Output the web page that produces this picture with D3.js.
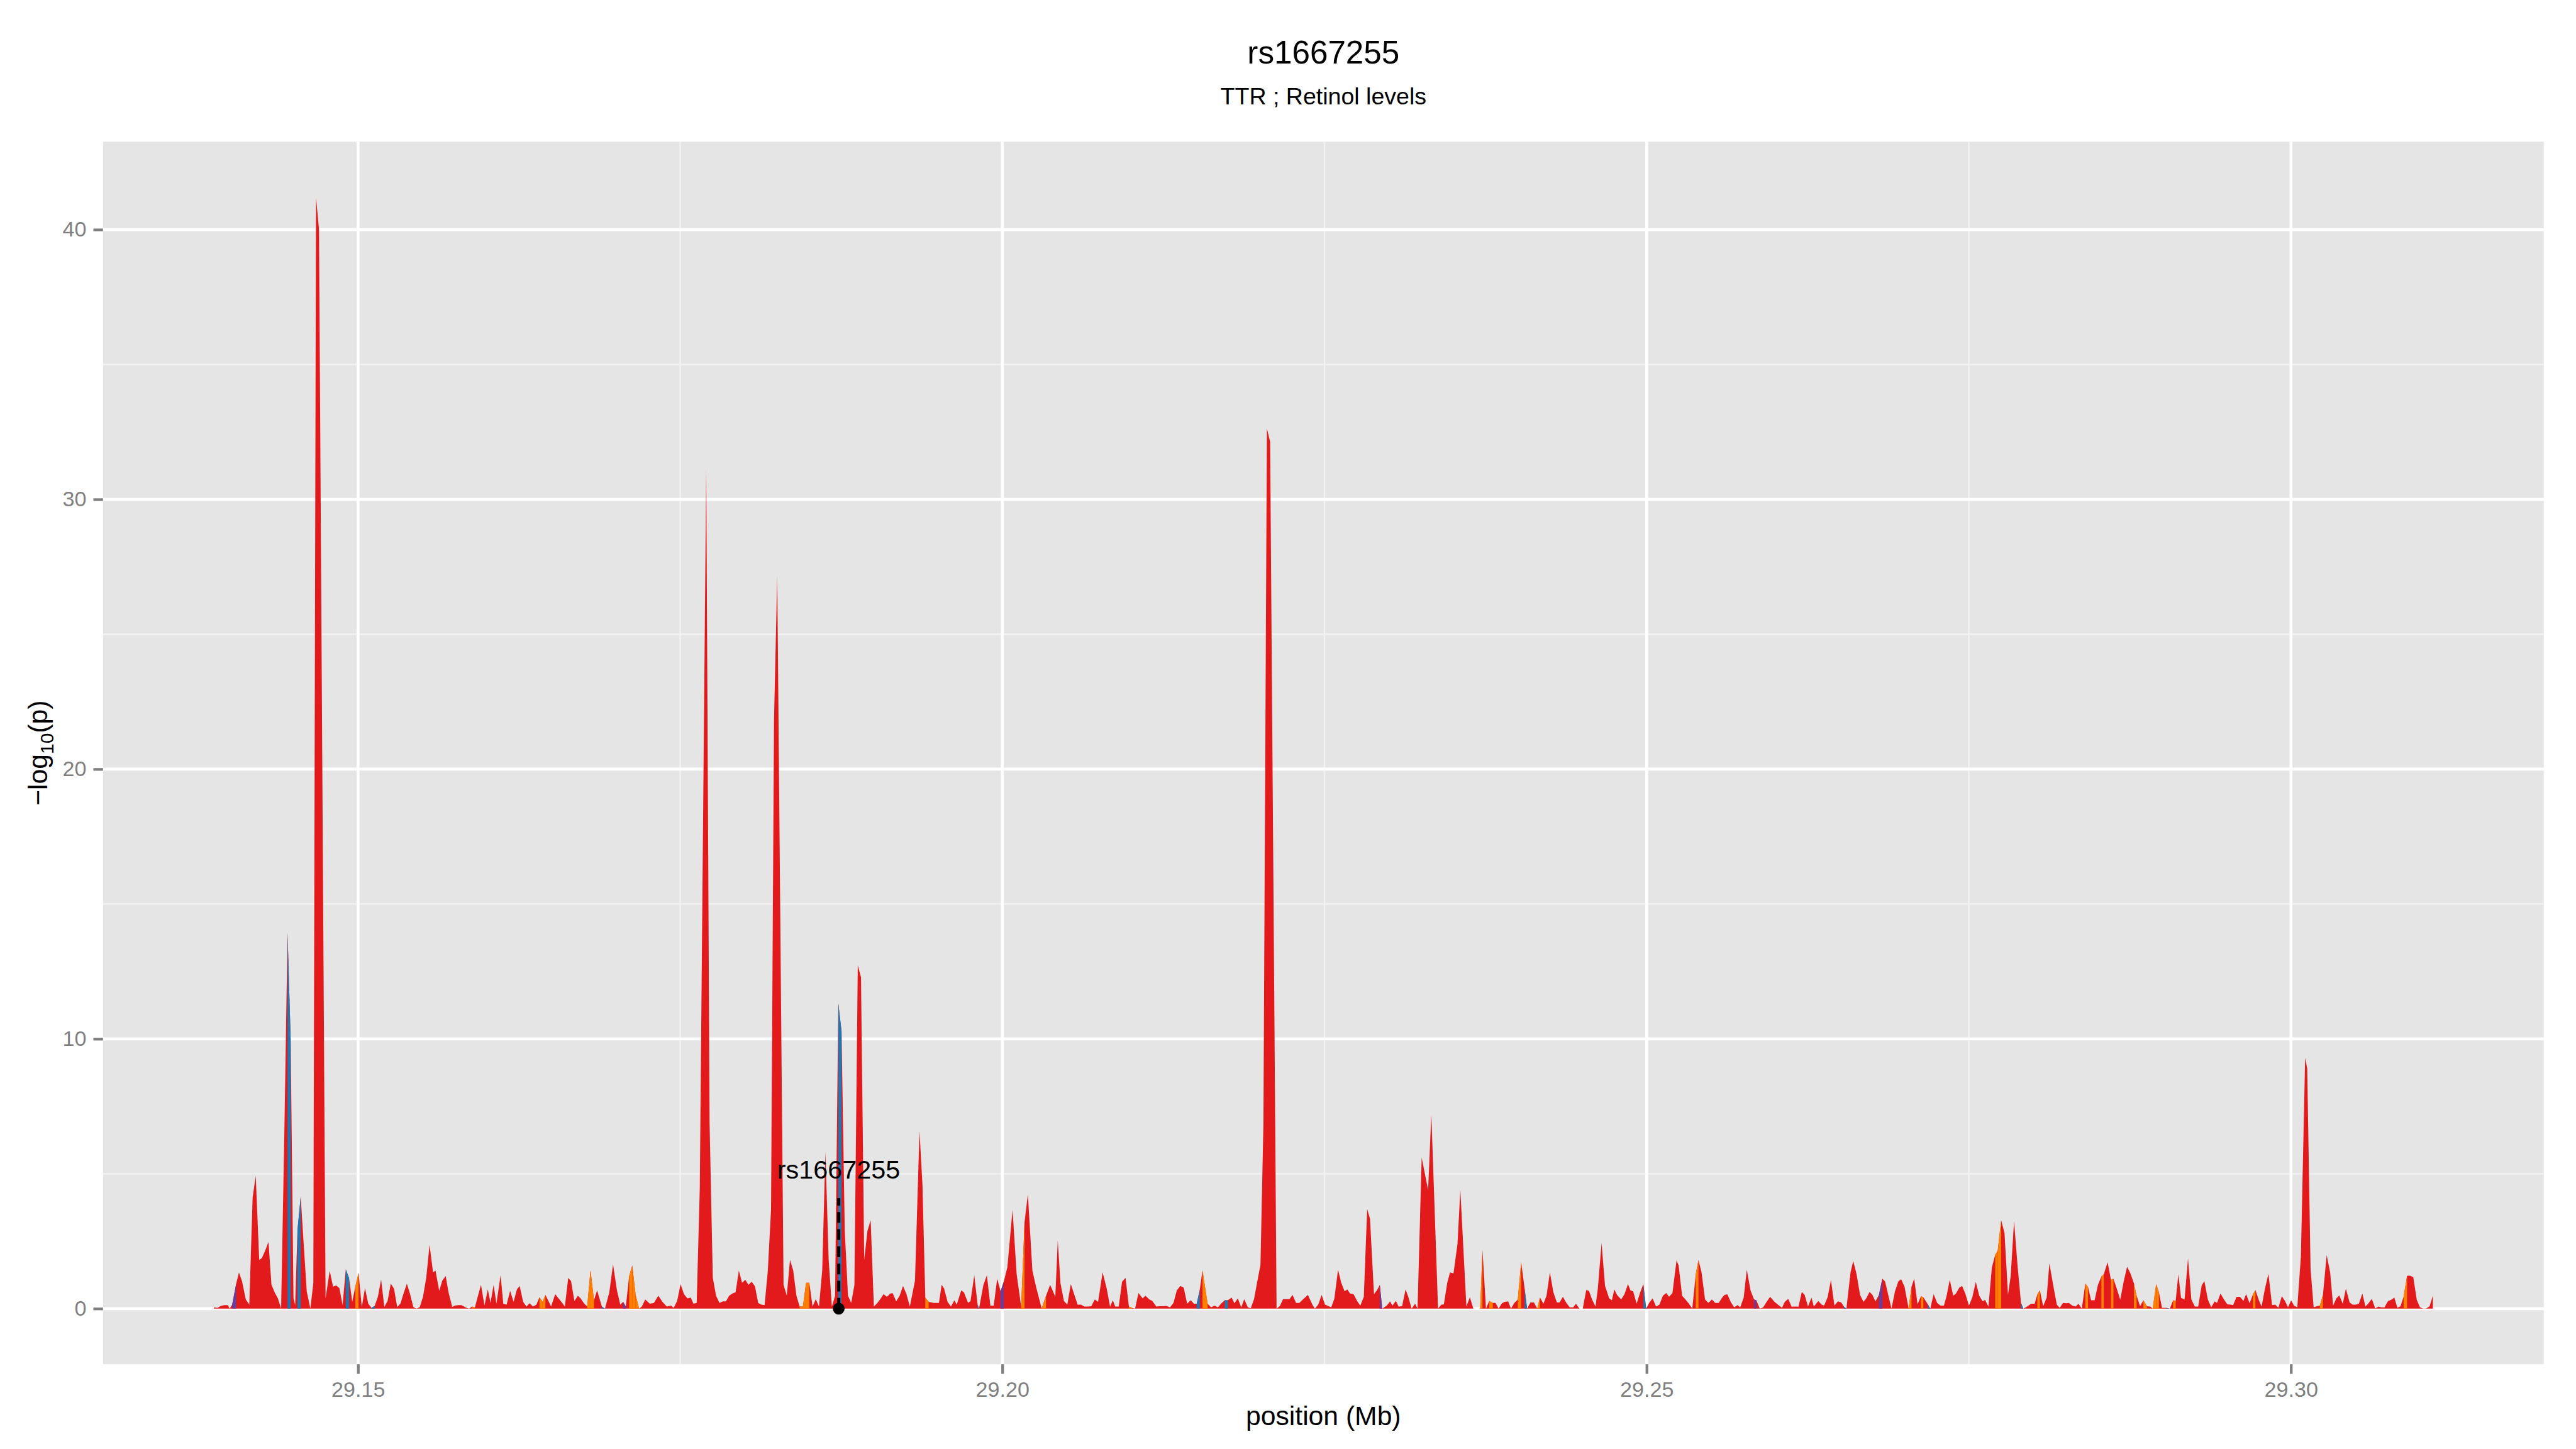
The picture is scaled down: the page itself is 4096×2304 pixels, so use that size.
<!DOCTYPE html>
<html>
<head>
<meta charset="utf-8">
<script src="https://cdn.jsdelivr.net/npm/d3@7"></script>
<style>
  body { margin: 0; background: #ffffff; }
  text { font-family: "Liberation Sans", Arial, Helvetica, sans-serif; }
</style>
</head>
<body>
<svg id="chart"></svg>
<script>
// SNP positions (kb on chr) and -log10(p)
const posKb = [
  29138.82, 29139.09, 29139.35, 29139.62, 29139.89, 29140.04, 29140.23, 29140.55, 29140.76, 29141.00,
  29141.29, 29141.56, 29141.82, 29142.06, 29142.33, 29142.54, 29142.81, 29143.05, 29143.28, 29143.53,
  29143.78, 29144.03, 29144.28, 29144.53, 29144.77, 29144.99, 29145.12, 29145.30, 29145.55, 29145.78,
  29146.02, 29146.30, 29146.53, 29146.74, 29146.97, 29147.48, 29147.80, 29148.06, 29148.31, 29148.55,
  29148.80, 29149.05, 29149.30, 29149.55, 29149.79, 29150.04, 29150.29, 29150.54, 29150.79, 29151.04,
  29151.29, 29151.54, 29151.79, 29152.04, 29152.29, 29152.54, 29152.79, 29153.04, 29153.29, 29153.54,
  29153.79, 29154.04, 29154.29, 29154.54, 29154.79, 29155.04, 29155.29, 29155.55, 29155.82, 29156.01,
  29156.30, 29156.54, 29156.80, 29157.02, 29157.31, 29157.50, 29157.76, 29158.03, 29158.34, 29158.61,
  29158.86, 29159.07, 29159.29, 29159.54, 29159.81, 29160.07, 29160.28, 29160.52, 29160.74, 29161.06,
  29161.27, 29161.53, 29161.80, 29162.07, 29162.33, 29162.54, 29162.81, 29163.07, 29163.31, 29163.58,
  29163.84, 29164.08, 29164.32, 29164.54, 29164.76, 29164.98, 29165.30, 29165.53, 29165.78, 29166.05,
  29166.31, 29166.53, 29166.79, 29167.06, 29167.27, 29167.53, 29167.78, 29168.04, 29168.31, 29168.55,
  29168.92, 29169.16, 29169.50, 29169.79, 29170.09, 29170.35, 29170.57, 29170.78, 29171.04, 29171.28,
  29171.54, 29171.81, 29172.02, 29172.29, 29172.64, 29172.96, 29173.30, 29173.62, 29173.96, 29174.28,
  29174.50, 29174.76, 29175.03, 29175.29, 29175.56, 29175.82, 29176.03, 29176.28, 29176.52, 29177.02,
  29177.28, 29177.53, 29177.78, 29178.05, 29178.30, 29178.55, 29178.80, 29179.05, 29179.30, 29179.55,
  29179.80, 29180.05, 29180.30, 29180.55, 29180.80, 29181.05, 29181.30, 29181.55, 29181.80, 29182.05,
  29182.28, 29182.53, 29183.02, 29183.27, 29183.52, 29183.77, 29184.02, 29184.27, 29184.52, 29184.77,
  29185.02, 29185.27, 29185.52, 29185.77, 29186.02, 29186.27, 29186.52, 29186.77, 29187.02, 29187.27,
  29187.52, 29187.77, 29188.02, 29188.27, 29188.52, 29188.78, 29189.03, 29189.28, 29189.53, 29189.78,
  29190.03, 29190.28, 29190.51, 29190.78, 29191.04, 29191.31, 29191.49, 29191.76, 29192.03, 29192.29,
  29192.56, 29192.82, 29193.22, 29193.57, 29193.80, 29194.02, 29194.28, 29194.68, 29195.08, 29195.29,
  29195.48, 29195.75, 29196.01, 29196.28, 29196.46, 29196.81, 29197.02, 29197.34, 29197.53, 29197.82,
  29198.08, 29198.19, 29198.53, 29198.80, 29199.07, 29199.33, 29199.60, 29199.86, 29200.11, 29200.39,
  29200.79, 29201.11, 29201.46, 29201.72, 29201.98, 29202.33, 29202.65, 29203.05, 29203.39, 29203.71,
  29204.11, 29204.30, 29204.51, 29204.78, 29205.04, 29205.31, 29205.57, 29205.84, 29206.10, 29206.37,
  29206.63, 29206.90, 29207.17, 29207.43, 29207.78, 29208.10, 29208.36, 29208.57, 29208.76, 29209.03,
  29209.29, 29209.56, 29209.82, 29210.06, 29210.30, 29210.56, 29210.89, 29211.10, 29211.41, 29211.63,
  29211.95, 29212.21, 29212.48, 29212.74, 29213.01, 29213.28, 29213.54, 29213.81, 29214.07, 29214.34,
  29214.61, 29214.87, 29215.08, 29215.32, 29215.53, 29215.93, 29216.20, 29216.46, 29216.73, 29217.00,
  29217.26, 29217.50, 29217.79, 29218.01, 29218.27, 29218.54, 29218.77, 29219.05, 29219.28, 29219.53,
  29219.78, 29220.03, 29220.26, 29220.53, 29220.78, 29221.28, 29221.54, 29221.78, 29222.03, 29222.28,
  29222.52, 29222.79, 29223.05, 29223.32, 29223.71, 29224.06, 29224.25, 29224.51, 29224.78, 29225.04,
  29225.28, 29225.52, 29225.76, 29226.05, 29226.29, 29226.56, 29226.77, 29226.98, 29227.25, 29227.57,
  29227.78, 29228.05, 29228.31, 29228.53, 29228.84, 29229.11, 29229.29, 29229.48, 29229.83, 29230.09,
  29230.27, 29230.54, 29230.75, 29231.02, 29231.29, 29231.50, 29231.76, 29232.03, 29232.22, 29232.54,
  29232.83, 29233.04, 29233.29, 29233.81, 29234.07, 29234.26, 29234.53, 29234.74, 29235.01, 29235.32,
  29235.54, 29236.01, 29236.28, 29236.55, 29236.81, 29237.08, 29237.26, 29237.53, 29237.79, 29238.06,
  29238.27, 29238.51, 29238.77, 29238.99, 29239.25, 29239.47, 29239.73, 29240.00, 29240.26, 29240.53,
  29240.72, 29240.98, 29241.25, 29241.51, 29241.72, 29241.99, 29242.23, 29242.49, 29242.76, 29243.03,
  29243.24, 29243.50, 29243.77, 29244.03, 29244.30, 29244.51, 29244.78, 29245.04, 29245.31, 29245.52,
  29245.76, 29246.03, 29246.21, 29246.50, 29246.77, 29247.09, 29247.30, 29247.49, 29247.70, 29248.02,
  29248.28, 29248.55, 29248.74, 29248.95, 29249.22, 29249.48, 29249.74, 29249.96, 29250.19, 29250.46,
  29250.73, 29250.99, 29251.26, 29251.52, 29251.74, 29252.00, 29252.32, 29252.48, 29252.75, 29253.01,
  29253.28, 29253.54, 29253.81, 29254.02, 29254.26, 29254.53, 29254.79, 29255.06, 29255.32, 29255.59,
  29255.86, 29256.04, 29256.26, 29256.52, 29256.79, 29257.05, 29257.26, 29257.53, 29257.77, 29258.06,
  29258.33, 29258.51, 29258.78, 29259.04, 29259.31, 29259.58, 29259.92, 29260.19, 29260.50, 29260.72,
  29260.98, 29261.25, 29261.57, 29261.78, 29262.04, 29262.26, 29262.52, 29262.79, 29262.97, 29263.32,
  29263.58, 29263.77, 29264.04, 29264.30, 29264.57, 29264.84, 29265.10, 29265.31, 29265.50, 29265.82,
  29266.03, 29266.29, 29266.56, 29266.82, 29267.04, 29267.30, 29267.52, 29267.75, 29268.02, 29268.29,
  29268.50, 29268.76, 29269.00, 29269.27, 29269.53, 29269.75, 29270.01, 29270.33, 29270.55, 29270.76,
  29271.02, 29271.29, 29271.47, 29271.82, 29272.01, 29272.27, 29272.54, 29272.80, 29273.07, 29273.28,
  29273.52, 29273.79, 29274.00, 29274.27, 29274.48, 29274.74, 29275.01, 29275.27, 29275.54, 29275.81,
  29276.07, 29276.26, 29276.52, 29276.79, 29277.05, 29277.24, 29277.51, 29277.77, 29278.04, 29278.25,
  29278.51, 29278.78, 29279.05, 29279.23, 29279.52, 29279.84, 29280.11, 29280.32, 29280.51, 29280.77,
  29281.04, 29281.25, 29281.57, 29281.83, 29282.05, 29282.31, 29282.58, 29282.76, 29283.03, 29283.29,
  29283.51, 29283.77, 29284.04, 29284.25, 29284.49, 29284.76, 29285.02, 29285.29, 29285.47, 29285.77,
  29286.03, 29286.22, 29286.48, 29286.75, 29287.02, 29287.28, 29287.54, 29287.81, 29288.02, 29288.29,
  29288.55, 29288.82, 29289.08, 29289.27, 29289.54, 29289.75, 29289.99, 29290.33, 29290.60, 29290.86,
  29291.05, 29291.26, 29291.47, 29291.74, 29292.01, 29292.27, 29292.54, 29292.80, 29293.07, 29293.28,
  29293.55, 29293.81, 29294.08, 29294.26, 29294.53, 29294.80, 29295.06, 29295.33, 29295.51, 29295.78,
  29296.04, 29296.31, 29296.52, 29296.79, 29297.05, 29297.24, 29297.51, 29297.72, 29297.98, 29298.25,
  29298.53, 29298.78, 29299.02, 29299.29, 29299.53, 29299.77, 29300.01, 29300.24, 29300.49, 29300.77,
  29301.10, 29301.26, 29301.52, 29301.76, 29302.00, 29302.24, 29302.48, 29302.77, 29303.04, 29303.27,
  29303.52, 29303.75, 29304.02, 29304.26, 29304.55, 29304.79, 29305.03, 29305.27, 29305.54, 29305.78,
  29305.99, 29306.27, 29306.54, 29306.78, 29307.02, 29307.26, 29307.53, 29307.78, 29308.02, 29308.26,
  29308.50, 29308.74, 29309.01, 29309.25, 29309.49, 29309.76, 29310.01, 29310.28, 29310.49, 29310.76,
  29311.01
];
const logP = [
  0.05, 0.03, 0.10, 0.13, 0.13, 0.00, 0.15, 0.94, 1.34, 1.01,
  0.34, 0.15, 4.12, 4.92, 1.80, 1.88, 2.17, 2.47, 0.89, 0.60,
  0.38, 0.00, 6.50, 13.93, 10.00, 0.38, 0.13, 2.92, 4.15, 2.40,
  0.63, 0.00, 0.95, 41.20, 40.00, 0.38, 1.40, 0.82, 0.86, 0.76,
  0.13, 1.46, 1.14, 0.25, 0.82, 1.33, 0.06, 0.76, 0.19, 0.03,
  0.10, 0.44, 1.08, 0.06, 0.28, 0.93, 0.74, 0.06, 0.19, 0.57,
  0.93, 0.53, 0.06, 0.00, 0.06, 0.44, 1.14, 2.37, 1.34, 1.41,
  0.66, 1.04, 1.21, 0.61, 0.06, 0.11, 0.13, 0.13, 0.05, 0.00,
  0.08, 0.05, 0.45, 0.88, 0.11, 0.71, 0.21, 0.88, 0.18, 1.24,
  0.18, 0.15, 0.66, 0.25, 0.71, 0.84, 0.25, 0.08, 0.20, 0.08,
  0.15, 0.42, 0.25, 0.51, 0.30, 0.08, 0.54, 0.40, 0.25, 0.08,
  1.14, 1.02, 0.28, 0.48, 0.38, 0.20, 0.08, 1.42, 0.31, 0.68,
  0.08, 0.00, 0.61, 1.64, 0.68, 0.15, 0.25, 0.08, 1.21, 1.60,
  0.51, 0.00, 0.08, 0.34, 0.18, 0.21, 0.48, 0.25, 0.08, 0.11,
  0.03, 0.28, 0.91, 0.54, 0.38, 0.41, 0.18, 0.21, 4.48, 31.17,
  6.87, 1.15, 0.48, 0.21, 0.27, 0.27, 0.48, 0.56, 0.61, 1.41,
  0.96, 1.07, 0.88, 1.00, 0.83, 0.21, 0.15, 0.13, 1.41, 3.68,
  21.80, 27.17, 0.88, 0.48, 1.81, 1.41, 0.48, 0.08, 0.08, 0.96,
  0.96, 0.08, 0.35, 0.08, 1.41, 5.81, 1.81, 0.08, 0.48, 11.32,
  10.28, 2.88, 0.48, 0.21, 0.88, 12.73, 12.28, 1.81, 2.88, 3.28,
  0.08, 0.20, 0.34, 0.54, 0.44, 0.56, 0.57, 0.27, 0.48, 0.84,
  0.54, 0.08, 1.04, 6.58, 4.59, 0.41, 0.25, 0.21, 0.21, 0.89,
  0.74, 0.25, 0.08, 0.31, 0.15, 0.68, 0.60, 0.21, 0.28, 1.24,
  0.15, 0.00, 0.88, 1.24, 0.11, 0.11, 1.11, 0.64, 1.00, 1.54,
  3.66, 1.27, 0.08, 3.20, 4.24, 1.41, 0.74, 0.01, 0.48, 0.88,
  0.44, 2.53, 0.94, 0.28, 0.15, 0.91, 0.54, 0.15, 0.15, 0.08,
  0.08, 0.09, 0.34, 0.25, 1.35, 0.74, 0.07, 0.31, 0.08, 0.08,
  1.00, 1.14, 0.08, 0.03, 0.00, 0.58, 0.38, 0.48, 0.34, 0.29,
  0.08, 0.09, 0.09, 0.10, 0.05, 0.21, 0.68, 0.84, 0.78, 0.18,
  0.31, 0.18, 0.18, 0.70, 1.42, 0.18, 0.05, 0.11, 0.05, 0.20,
  0.31, 0.31, 0.41, 0.20, 0.38, 0.05, 0.35, 0.05, 0.02, 0.35,
  1.00, 1.62, 6.87, 32.63, 32.13, 0.00, 0.10, 0.35, 0.35, 0.35,
  0.51, 0.21, 0.21, 0.34, 0.51, 0.15, 0.00, 0.15, 0.51, 0.15,
  0.10, 0.05, 0.36, 1.44, 0.97, 0.64, 0.71, 0.56, 0.54, 0.25,
  0.11, 0.44, 3.69, 3.33, 0.53, 0.71, 0.88, 0.00, 0.11, 0.27,
  0.11, 0.29, 0.08, 0.09, 0.71, 0.44, 0.00, 0.18, 0.00, 5.60,
  4.90, 4.40, 7.20, 0.01, 0.15, 0.16, 0.97, 1.34, 1.31, 2.40,
  4.40, 0.08, 0.42, 0.00, 0.00, 0.00, 2.17, 0.00, 0.29, 0.21,
  0.21, 0.00, 0.20, 0.25, 0.27, 0.00, 0.21, 0.34, 1.72, 0.74,
  0.00, 0.23, 0.23, 0.00, 0.41, 0.18, 0.48, 1.34, 0.61, 0.23,
  0.23, 0.44, 0.21, 0.05, 0.05, 0.18, 0.00, 0.00, 0.69, 0.66,
  0.34, 0.08, 0.74, 2.43, 0.84, 0.38, 0.31, 0.71, 0.51, 0.34,
  0.54, 0.91, 0.68, 0.64, 0.18, 0.58, 0.91, 0.00, 0.21, 0.38,
  0.08, 0.15, 0.48, 0.58, 0.44, 0.58, 1.79, 1.60, 0.48, 0.34,
  0.18, 0.00, 1.27, 1.80, 1.34, 0.34, 0.21, 0.34, 0.21, 0.21,
  0.41, 0.51, 0.53, 0.25, 0.05, 0.13, 0.05, 0.41, 1.44, 0.68,
  0.34, 0.31, 0.00, 0.05, 0.25, 0.44, 0.25, 0.15, 0.03, 0.25,
  0.36, 0.07, 0.08, 0.07, 0.62, 0.51, 0.08, 0.41, 0.08, 0.28,
  0.15, 0.11, 0.42, 1.06, 0.11, 0.27, 0.23, 0.07, 0.00, 1.34,
  1.77, 1.27, 0.51, 0.25, 0.38, 0.62, 0.51, 0.27, 0.50, 1.11,
  1.01, 0.48, 0.00, 0.64, 1.01, 1.09, 0.81, 0.00, 0.81, 1.11,
  0.16, 0.46, 0.42, 0.16, 0.00, 0.54, 0.21, 0.11, 0.11, 0.48,
  1.07, 0.48, 0.56, 0.78, 0.84, 0.54, 0.11, 0.42, 0.99, 0.48,
  0.27, 0.33, 0.08, 1.53, 2.00, 2.14, 3.28, 2.80, 0.51, 1.21,
  3.25, 1.60, 0.21, 0.00, 0.08, 0.18, 0.18, 0.53, 0.68, 0.09,
  0.41, 1.68, 0.81, 0.15, 0.03, 0.21, 0.20, 0.21, 0.11, 0.08,
  0.18, 0.00, 0.93, 0.80, 0.31, 0.31, 0.88, 1.19, 1.27, 1.72,
  1.07, 1.11, 0.74, 0.33, 1.01, 1.55, 1.31, 0.94, 0.48, 0.09,
  0.31, 0.09, 0.08, 0.00, 0.91, 0.61, 0.03, 0.03, 0.00, 0.31,
  0.28, 1.27, 0.40, 0.34, 1.86, 0.34, 0.08, 0.08, 0.86, 1.02,
  0.34, 0.05, 0.27, 0.21, 0.56, 0.34, 0.16, 0.15, 0.13, 0.44,
  0.44, 0.29, 0.54, 0.20, 0.53, 0.69, 0.31, 0.08, 0.74, 1.29,
  0.13, 0.15, 0.03, 0.46, 0.29, 0.05, 0.31, 0.11, 0.05, 1.94,
  9.30, 8.90, 1.47, 0.05, 0.09, 0.11, 0.51, 1.99, 1.34, 0.11,
  0.38, 0.49, 0.18, 0.74, 0.23, 0.15, 0.15, 0.18, 0.56, 0.08,
  0.18, 0.36, 0.01, 0.08, 0.05, 0.05, 0.28, 0.33, 0.41, 0.03,
  0.09, 0.44, 1.22, 1.22, 1.17, 0.33, 0.05, 0.00, 0.01, 0.09,
  0.48
];

// SNPs (by position, kb) whose interval to the next SNP is drawn in another class colour
const blueSnps = [29144.53, 29145.30, 29149.05, 29151.04, 29168.92, 29187.27, 29198.08, 29215.08,
  29217.26, 29240.53, 29249.74, 29265.31, 29271.82, 29279.05, 29290.33];
const orangeSnps = [29149.79, 29158.86, 29164.08, 29164.32, 29167.78, 29168.04, 29171.04, 29171.28,
  29171.54, 29184.27, 29184.52, 29184.77, 29194.02, 29201.46, 29203.05, 29209.82, 29215.53, 29237.08,
  29237.79, 29240.00, 29241.51, 29253.81, 29270.33, 29271.29, 29277.05, 29277.24, 29280.32, 29284.04,
  29285.29, 29286.03, 29287.81, 29288.55, 29289.27, 29289.54, 29290.86, 29297.05, 29302.24, 29308.74,
  29310.28];
const purpleSnps = [29140.23, 29170.57, 29199.86, 29229.29, 29258.33, 29268.02];

const xTicks = [29.15, 29.20, 29.25, 29.30];
const yTicks = [0, 10, 20, 30, 40];

const plotTitle = "rs1667255";
const plotSubtitle = "TTR ; Retinol levels";
const leadSnp = {name: "rs1667255", pos: 29.1873, labelY: 5.15, lineTop: 4.1};

// colours (RColorBrewer "Paired" dark shades)
const colours = {red: "#E31A1C", blue: "#1F78B4", orange: "#FF7F00", purple: "#6A3D9A"};

// drawing is done in the reference's 4800x2700 units and scaled to the window
const W = 4800, H = 2700;
const margin = {top: 264, right: 60, bottom: 158, left: 192};
const pw = W - margin.left - margin.right;
const ph = H - margin.top - margin.bottom;

const svg = d3.select("#chart")
    .attr("width", 4096)
    .attr("height", 2304)
    .attr("viewBox", "0 0 " + W + " " + H);

svg.append("rect").attr("width", W).attr("height", H).attr("fill", "#ffffff");

const g = svg.append("g")
    .attr("transform", "translate(" + margin.left + "," + margin.top + ")");

let data = posKb.map((d, i) => ({mb: d / 1000, kb: d, p: logP[i]}));

// ggplot-style 5% expansion
let xr = d3.extent(data, d => d.mb);
let xpad = (xr[1] - xr[0]) * 0.05;
let x = d3.scaleLinear().domain([xr[0] - xpad, xr[1] + xpad]).range([0, pw]);

let ymax = d3.max(data, d => d.p);
let y = d3.scaleLinear().domain([-0.05 * ymax, ymax * 1.05]).range([ph, 0]);

// panel
g.append("rect").attr("width", pw).attr("height", ph).attr("fill", "#E5E5E5");

// minor grid lines half way between the breaks
let xMinor = [];
for (let i = 0; i < xTicks.length - 1; i++) xMinor.push((xTicks[i] + xTicks[i + 1]) / 2);
let yMinor = [];
for (let i = 0; i < yTicks.length - 1; i++) yMinor.push((yTicks[i] + yTicks[i + 1]) / 2);

g.selectAll(".xminor").data(xMinor).enter().append("line")
    .attr("x1", d => x(d)).attr("x2", d => x(d))
    .attr("y1", 0).attr("y2", ph)
    .attr("stroke", "#F2F2F2").attr("stroke-width", 2.8);
g.selectAll(".yminor").data(yMinor).enter().append("line")
    .attr("y1", d => y(d)).attr("y2", d => y(d))
    .attr("x1", 0).attr("x2", pw)
    .attr("stroke", "#F2F2F2").attr("stroke-width", 2.8);
g.selectAll(".xmajor").data(xTicks).enter().append("line")
    .attr("x1", d => x(d)).attr("x2", d => x(d))
    .attr("y1", 0).attr("y2", ph)
    .attr("stroke", "#ffffff").attr("stroke-width", 5.5);
g.selectAll(".ymajor").data(yTicks).enter().append("line")
    .attr("y1", d => y(d)).attr("y2", d => y(d))
    .attr("x1", 0).attr("x2", pw)
    .attr("stroke", "#ffffff").attr("stroke-width", 5.5);

// area under the -log10(p) curve
let area = d3.area()
    .x(d => x(d.mb))
    .y0(y(0))
    .y1(d => y(d.p));

g.append("path")
    .datum(data)
    .attr("d", area)
    .attr("fill", colours.red);

// intervals in other classes drawn over the red
let classOf = new Map();
blueSnps.forEach(d => classOf.set(d.toFixed(2), "blue"));
orangeSnps.forEach(d => classOf.set(d.toFixed(2), "orange"));
purpleSnps.forEach(d => classOf.set(d.toFixed(2), "purple"));

let segs = [];
for (let i = 0; i < data.length - 1; i++) {
    let c = classOf.get(data[i].kb.toFixed(2));
    if (c) segs.push({cls: c, pts: [data[i], data[i + 1]]});
}
g.selectAll(".seg").data(segs).enter().append("path")
    .attr("class", "seg")
    .attr("d", d => area(d.pts))
    .attr("fill", d => colours[d.cls]);

// lead SNP marker
let lx = x(leadSnp.pos);
g.append("line")
    .attr("x1", lx).attr("x2", lx)
    .attr("y1", y(0)).attr("y2", y(leadSnp.lineTop))
    .attr("stroke", "#000000").attr("stroke-width", 6)
    .attr("stroke-dasharray", "20,12");
g.append("circle")
    .attr("cx", lx).attr("cy", y(0)).attr("r", 11)
    .attr("fill", "#000000");
g.append("text")
    .attr("x", lx).attr("y", y(leadSnp.labelY))
    .attr("dy", "0.35em")
    .attr("text-anchor", "middle")
    .attr("font-size", 48.5)
    .attr("fill", "#000000")
    .text(leadSnp.name);

// axes
let xAxis = g.append("g")
    .attr("transform", "translate(0," + ph + ")")
    .call(d3.axisBottom(x).tickValues(xTicks).tickFormat(d3.format(".2f"))
        .tickSize(18).tickPadding(14));
let yAxis = g.append("g")
    .call(d3.axisLeft(y).tickValues(yTicks).tickFormat(d3.format("d"))
        .tickSize(18).tickPadding(13));

[xAxis, yAxis].forEach(a => {
    a.select(".domain").remove();
    a.selectAll(".tick line").attr("stroke", "#7F7F7F").attr("stroke-width", 5);
    a.selectAll(".tick text")
        .attr("fill", "#7F7F7F")
        .attr("font-size", 40)
        .attr("font-family", "'Liberation Sans', Arial, Helvetica, sans-serif");
});

// titles
let cx = margin.left + pw / 2;
svg.append("text")
    .attr("x", cx).attr("y", 118)
    .attr("text-anchor", "middle")
    .attr("font-size", 60)
    .text(plotTitle);
svg.append("text")
    .attr("x", cx).attr("y", 194)
    .attr("text-anchor", "middle")
    .attr("font-size", 44)
    .text(plotSubtitle);

svg.append("text")
    .attr("x", cx).attr("y", 2655)
    .attr("text-anchor", "middle")
    .attr("font-size", 50)
    .text("position (Mb)");

let yt = svg.append("text")
    .attr("transform", "translate(88," + (margin.top + ph / 2) + ") rotate(-90)")
    .attr("text-anchor", "middle")
    .attr("font-size", 50);
yt.append("tspan").text("\u2212log");
yt.append("tspan").attr("font-size", 35).attr("dy", 12).text("10");
yt.append("tspan").attr("dy", -12).text("(p)");
</script>
</body>
</html>
